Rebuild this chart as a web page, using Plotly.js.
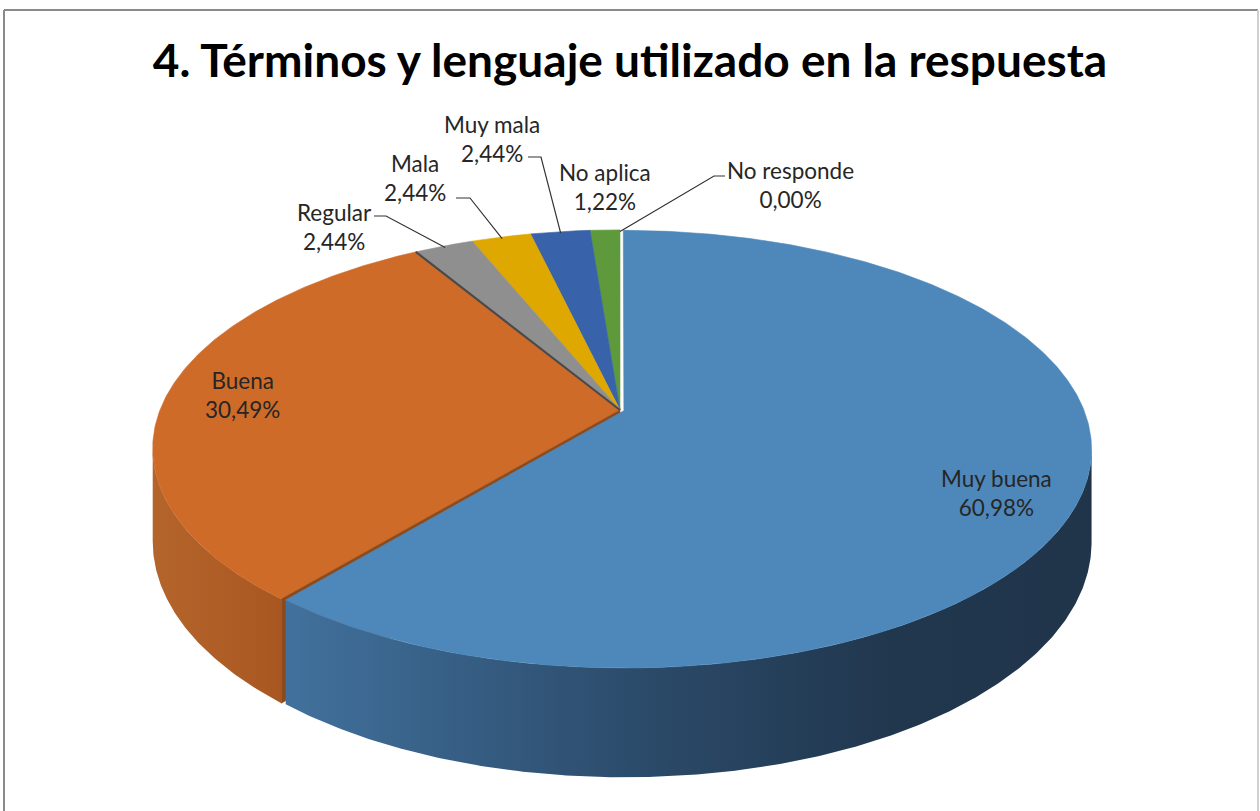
<!DOCTYPE html>
<html>
<head>
<meta charset="utf-8">
<script src="https://cdn.plot.ly/plotly-3.0.1.min.js"></script>
<style>html,body{margin:0;padding:0;background:#fff;}#chart{width:1260px;height:811px;}</style>
</head>
<body>
<div id="chart"></div>
<script>
// ---- data ----
const categories = ["Muy buena", "Buena", "Regular", "Mala", "Muy mala", "No aplica", "No responde"];
const percents = [60.98, 30.49, 2.44, 2.44, 2.44, 1.22, 0.00];
const titleText = "4. Términos y lenguaje utilizado en la respuesta";

// ---- styles ----
const topColors  = ["#4e88bb", "#cf6b28", "#8f8f8f", "#dea800", "#3862a9", "#5e9a3c", "#4e88bb"];
const wallScales = [
  [[0, "#41719d"], [0.45, "#2b4a69"], [0.75, "#21374e"], [1, "#20354a"]],
  [[0, "#b4652b"], [1, "#a95721"]],
  [[0, "#777"], [1, "#777"]],
  [[0, "#b88c00"], [1, "#b88c00"]],
  [[0, "#2c4f8a"], [1, "#2c4f8a"]],
  [[0, "#4c7d30"], [1, "#4c7d30"]],
  [[0, "#20354a"], [1, "#20354a"]]
];
const explode = [0.009, 0, 0, 0, 0, 0, 0];
const FONT = "Lato, 'Open Sans', sans-serif";

// ---- projection (pseudo-3D, perspective) ----
const CX = 620, CY = 410, A = 460, B = 211.8, K = 0.176, H = 90;
function proj(thetaDeg, r, z, off) {
  const t = thetaDeg * Math.PI / 180;
  const u = r * Math.sin(t) + off[0];
  const v = r * Math.cos(t) + off[1];
  const den = 1 + K * v;
  return [CX + A * u / den, CY - B * v / den + z * H / den];
}

const total = percents.reduce((a, b) => a + b, 0);
const slices = [];
let acc = 0;
percents.forEach((p, i) => {
  const a0 = acc / total * 360;
  acc += p;
  const a1 = acc / total * 360;
  const mid = (a0 + a1) / 2 * Math.PI / 180;
  const off = [explode[i] * Math.sin(mid), explode[i] * Math.cos(mid)];
  slices.push({i, a0, a1, off, mid: (a0 + a1) / 2});
});

function arc(a0, a1, r, z, off) {
  const pts = [];
  const n = Math.max(2, Math.ceil((a1 - a0) / 0.5));
  for (let j = 0; j <= n; j++) pts.push(proj(a0 + (a1 - a0) * j / n, r, z, off));
  return pts;
}

const traces = [];
function poly(pts, fillcolor, extra) {
  const tr = {
    type: "scatter", mode: "lines",
    x: pts.map(p => p[0]).concat([pts[0][0]]),
    y: pts.map(p => p[1]).concat([pts[0][1]]),
    fill: "toself", fillcolor: fillcolor,
    line: {width: 0.6, color: fillcolor},
    hoverinfo: "skip", showlegend: false
  };
  Object.assign(tr, extra || {});
  traces.push(tr);
}

const SIL0 = Math.acos(-K) * 180 / Math.PI;   // right silhouette angle
const SIL1 = 360 - SIL0;                      // left silhouette angle

function drawSlice(s) {
  if (s.a1 - s.a0 <= 0) return;
  const w0 = Math.max(s.a0, SIL0), w1 = Math.min(s.a1, SIL1);
  if (w1 > w0) {
    const topArc = arc(w0, w1, 1, 0, s.off);
    const botArc = arc(w0, w1, 1, 1, s.off).reverse();
    poly(topArc.concat(botArc), wallScales[s.i][0][1], {
      fillgradient: {type: "horizontal", colorscale: wallScales[s.i]},
      line: {width: 0}
    });
  }
  const c = proj(0, 0, 0, s.off);
  poly([c].concat(arc(s.a0, s.a1, 1, 0, s.off)), topColors[s.i]);
}

const order = [6, 5, 4, 3, 2, 1];
order.forEach(i => drawSlice(slices[i]));
{
  const s = slices[2];
  const c = proj(0, 0, 0, s.off), e = proj(s.a0, 1, 0, s.off);
  traces.push({type: "scatter", mode: "lines", x: [c[0], e[0]], y: [c[1], e[1]],
    line: {color: "#4a4a4a", width: 2.2}, hoverinfo: "skip", showlegend: false});
}
{
  const s = slices[1];
  const pts = [proj(s.a0, 0, 0, s.off), proj(s.a0, 1, 0, s.off), proj(s.a0, 1, 1, s.off), proj(s.a0, 0, 1, s.off)];
  poly(pts, "#8b4a1c");
}
drawSlice(slices[0]);

// ---- labels ----
function fmt(p) { return p.toFixed(2).replace(".", ",") + "%"; }
const labelCfg = [
  {x: 996, y: 493},
  {x: 242, y: 395},
  {x: 334, y: 227, lead: [[374, 216], [386, 216]]},
  {x: 415, y: 178, lead: [[456, 198], [470, 198]]},
  {x: 492, y: 139, lead: [[528, 157], [541, 157]]},
  {x: 605, y: 187},
  {x: 790, y: 185, lead: [[725, 176], [714, 176]]}
];
const annotations = [];
slices.forEach(s => {
  const cfg = labelCfg[s.i];
  annotations.push({
    x: cfg.x, y: cfg.y, xref: "x", yref: "y", showarrow: false,
    text: categories[s.i] + "<br>" + fmt(percents[s.i]),
    font: {family: FONT, size: 22.5, color: "#262626"},
    align: "center", xanchor: "center", yanchor: "middle"
  });
  if (cfg.lead) {
    const end = proj(s.mid, 0.99, 0, s.off);
    const pts = cfg.lead.concat([end]);
    traces.push({type: "scatter", mode: "lines",
      x: pts.map(p => p[0]), y: pts.map(p => p[1]),
      line: {color: "#333333", width: 1.2}, hoverinfo: "skip", showlegend: false});
  }
});

const layout = {
  width: 1260, height: 811,
  margin: {l: 0, r: 0, t: 0, b: 0},
  paper_bgcolor: "#ffffff", plot_bgcolor: "#ffffff",
  showlegend: false, hovermode: false,
  xaxis: {range: [0, 1260], visible: false, fixedrange: true},
  yaxis: {range: [811, 0], visible: false, fixedrange: true},
  title: {
    text: "<b>" + titleText + "</b>",
    font: {family: FONT, size: 46, color: "#000000"},
    x: 0.5, xanchor: "center", y: 1 - 61 / 811, yanchor: "middle"
  },
  annotations: annotations,
  shapes: [
    {type: "line", xref: "x", yref: "y", x0: 4, y0: 10, x1: 1258, y1: 10, line: {color: "#8a8a8a", width: 2}},
    {type: "line", xref: "x", yref: "y", x0: 4, y0: 10, x1: 4, y1: 811, line: {color: "#8a8a8a", width: 2}},
    {type: "line", xref: "x", yref: "y", x0: 1258, y0: 10, x1: 1258, y1: 811, line: {color: "#d0d0d0", width: 2}}
  ]
};

Plotly.newPlot("chart", traces, layout, {displayModeBar: false, staticPlot: true});
</script>
</body>
</html>
